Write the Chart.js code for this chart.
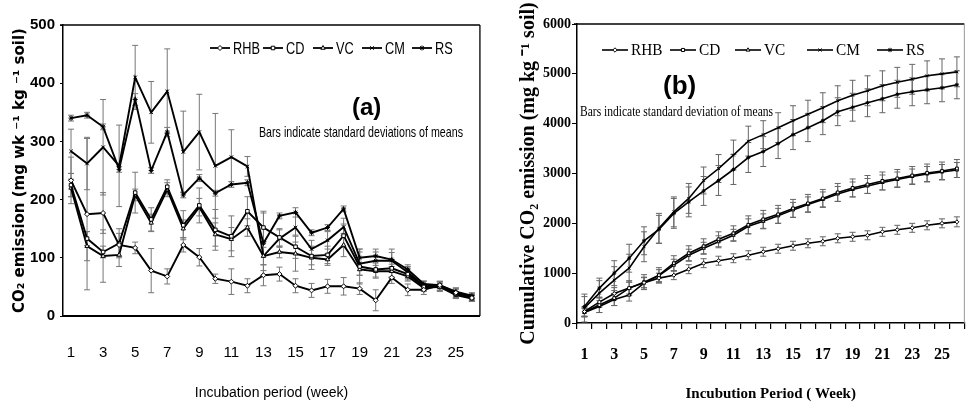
<!DOCTYPE html>
<html><head><meta charset="utf-8">
<script src="https://cdn.jsdelivr.net/npm/chart.js@4.4.0/dist/chart.umd.min.js"></script>
<style>
html,body{margin:0;padding:0;background:#fff;overflow:hidden}
#wrap{position:relative;width:973px;height:404px;background:#fff}
#ca{position:absolute;left:0;top:0;width:500px;height:404px}
#cb{position:absolute;left:500px;top:0;width:473px;height:404px}
</style></head><body>
<div id="wrap"><canvas id="ca" width="500" height="404"></canvas><canvas id="cb" width="473" height="404"></canvas></div>
<script>
// ---------- data ----------
const weeks = ['1','2','3','4','5','6','7','8','9','10','11','12','13','14','15','16','17','18','19','20','21','22','23','24','25','26'];
const seriesNames = ['RHB','CD','VC','CM','RS'];

// (a) weekly CO2 emission, mg wk-1 kg-1 soil
const emRHB = [233,175,177,122,117,78,68,122,101,64,59,52,70,72,52,44,51,51,47,27,66,45,45,53,40,31];
const emCD  = [225,133,110,125,212,166,222,156,190,148,137,180,152,135,119,103,105,138,85,80,82,72,50,50,38,31];
const emVC  = [220,120,103,105,208,160,217,150,187,140,132,152,103,110,107,100,97,122,80,77,77,68,48,50,36,30];
const emCM  = [283,262,290,258,410,350,386,282,316,258,273,257,103,133,152,115,130,153,90,95,95,75,52,52,40,33];
const emRS  = [340,345,325,252,372,250,316,208,237,211,226,229,125,172,178,143,152,184,100,103,97,80,55,53,42,35];
// (a) standard deviations
const sdRHB = [40,130,35,20,10,38,13,12,15,8,22,12,18,12,12,12,12,15,10,18,10,10,8,6,8,6];
const sdCD  = [20,12,10,25,35,20,12,25,30,35,35,25,25,15,20,15,15,20,30,15,15,10,6,8,8,5];
const sdVC  = [15,25,45,20,10,15,12,15,15,20,20,15,15,10,30,20,10,20,10,10,12,8,6,6,6,5];
const sdCM  = [38,45,82,70,55,53,73,70,65,90,47,17,25,15,25,15,15,15,20,15,20,10,8,8,8,6];
const sdRS  = [5,5,5,5,10,5,8,5,6,5,5,5,55,5,8,5,5,5,15,12,12,8,5,6,6,5];

// (b) cumulative CO2 emission, mg kg-1 soil
const cumRHB = [230,420,590,700,810,900,960,1080,1200,1250,1300,1360,1430,1490,1550,1600,1640,1700,1730,1760,1830,1870,1910,1960,2000,2030];
const cumCD  = [220,360,500,700,820,960,1200,1400,1540,1680,1800,1970,2080,2180,2300,2400,2500,2620,2710,2780,2850,2900,2960,3010,3050,3100];
const cumVC  = [210,330,470,560,800,950,1160,1360,1500,1630,1760,1940,2040,2150,2270,2380,2480,2590,2680,2750,2820,2880,2940,2990,3030,3070];
const cumCM  = [300,600,860,1100,1530,1900,2230,2500,2860,3100,3370,3650,3780,3920,4060,4190,4320,4460,4570,4660,4760,4830,4890,4960,5000,5040];
const cumRS  = [330,700,1000,1300,1650,1880,2200,2430,2650,2860,3080,3320,3440,3600,3780,3920,4060,4240,4330,4420,4500,4590,4640,4680,4720,4780];
// (b) standard deviations
const csdRHB = [90,100,120,120,100,100,90,90,90,90,90,90,90,90,90,90,90,90,90,90,90,90,90,90,90,100];
const csdCD  = [100,150,150,150,150,150,150,150,150,150,150,180,180,180,180,180,180,180,180,180,180,180,180,180,180,180];
const csdVC  = [80,120,120,120,120,120,120,120,120,120,120,150,150,150,150,150,150,150,150,150,150,150,150,150,150,150];
const csdCM  = [280,250,270,280,300,300,300,300,270,280,300,300,280,300,300,280,300,300,300,300,300,300,300,300,300,300];
const csdRS  = [200,200,250,280,280,280,300,300,290,300,300,300,300,300,300,280,280,280,280,280,280,280,280,280,280,280];

const yTicksA = [0,100,200,300,400,500];
const yTicksB = [0,1000,2000,3000,4000,5000,6000];

// ---------- styling ----------
const H = Chart.helpers;
const SANS = "'Liberation Sans',Arial,sans-serif";
const SERIF = "'Liberation Serif','Times New Roman',serif";
const markerStyles = ['rectRot','rect','triangle','crossRot','star'];

function buildDatasets(values, errs, lw, pr) {
  return seriesNames.map((name, i) => ({
    label: name, data: values[i], errors: errs[i],
    borderColor: '#000', backgroundColor: '#fff', borderWidth: lw,
    pointStyle: markerStyles[i], pointRadius: pr, pointBorderColor: '#000',
    pointBorderWidth: 1, pointBackgroundColor: '#fff', tension: 0, fill: false
  }));
}

function errorBarPlugin(color, cap) {
  return { id: 'errBars', beforeDatasetsDraw(chart) {
    const ctx = chart.ctx, x = chart.scales.x, y = chart.scales.y;
    ctx.save(); ctx.strokeStyle = color; ctx.lineWidth = 1;
    chart.data.datasets.forEach(ds => {
      ds.data.forEach((v, i) => {
        const e = ds.errors[i];
        const px = x.getPixelForValue(i);
        const t = y.getPixelForValue(v + e), b = y.getPixelForValue(Math.max(0, v - e));
        ctx.beginPath();
        ctx.moveTo(px, t); ctx.lineTo(px, b);
        ctx.moveTo(px - cap, t); ctx.lineTo(px + cap, t);
        ctx.moveTo(px - cap, b); ctx.lineTo(px + cap, b);
        ctx.stroke();
      });
    });
    ctx.restore();
  }};
}

function framePlugin(topW, rightColor, rightW) {
  return { id: 'frame', afterDatasetsDraw(chart) {
    const a = chart.chartArea, ctx = chart.ctx;
    ctx.save();
    ctx.strokeStyle = '#000'; ctx.lineWidth = topW;
    ctx.beginPath(); ctx.moveTo(a.left - 3, a.top); ctx.lineTo(a.right, a.top); ctx.stroke();
    ctx.strokeStyle = rightColor; ctx.lineWidth = rightW;
    ctx.beginPath(); ctx.moveTo(a.right, a.top); ctx.lineTo(a.right, a.bottom); ctx.stroke();
    ctx.restore();
  }};
}

function legendPlugin(cfg) {
  return { id: 'inLegend', afterDraw(chart) {
    const ctx = chart.ctx;
    seriesNames.forEach((name, i) => {
      const x0 = cfg.xs[i];
      ctx.save();
      ctx.strokeStyle = '#000'; ctx.lineWidth = cfg.lw;
      ctx.beginPath(); ctx.moveTo(x0, cfg.y); ctx.lineTo(x0 + cfg.len, cfg.y); ctx.stroke();
      ctx.lineWidth = 1; ctx.fillStyle = '#fff';
      H.drawPoint(ctx, {pointStyle: markerStyles[i], radius: cfg.r, rotation: 0, borderWidth: 1}, x0 + cfg.len / 2, cfg.y);
      ctx.fillStyle = '#000';
      ctx.font = cfg.font; ctx.textBaseline = 'middle'; ctx.textAlign = 'left';
      ctx.translate(x0 + cfg.len + cfg.gap, cfg.y + 1);
      ctx.scale(cfg.sx, 1);
      ctx.fillText(name, 0, 0);
      ctx.restore();
    });
  }};
}

function notesPlugin(items) {
  return { id: 'notes', afterDraw(chart) {
    const ctx = chart.ctx;
    items.forEach(t => {
      ctx.save();
      ctx.font = t.font; ctx.fillStyle = '#000'; ctx.textBaseline = 'middle'; ctx.textAlign = 'left';
      const w = ctx.measureText(t.text).width;
      const sx = t.w ? t.w / w : 1;
      ctx.translate(t.x, t.y); ctx.scale(sx, 1);
      ctx.fillText(t.text, 0, 0);
      ctx.restore();
    });
  }};
}

const oddLabel = (v, i) => (i % 2 === 0 ? weeks[i] : '');
const plainNum = v => String(v);

// ---------- chart (a) ----------
new Chart(document.getElementById('ca'), {
  type: 'line',
  data: { labels: weeks, datasets: buildDatasets([emRHB, emCD, emVC, emCM, emRS], [sdRHB, sdCD, sdVC, sdCM, sdRS], 1.9, 2.5) },
  options: {
    responsive: false, animation: false,
    layout: { padding: { top: 25, right: 3, left: 0, bottom: 0 } },
    plugins: { legend: { display: false }, tooltip: { enabled: false } },
    scales: {
      x: {
        type: 'category', offset: true,
        grid: { display: false, offset: true, drawTicks: false },
        border: { display: true, color: '#000', width: 2 },
        ticks: { autoSkip: false, maxRotation: 0, padding: 28, color: '#000', font: { family: SANS, size: 15 }, callback: oddLabel },
        title: { display: true, text: 'Incubation period (week)', color: '#000', font: { family: SANS, size: 14 }, padding: { top: 0, bottom: 2 } },
        afterFit: s => { s.height = 88; }
      },
      y: {
        min: yTicksA[0], max: yTicksA[yTicksA.length - 1],
        grid: { display: true, drawOnChartArea: false, drawTicks: true, tickLength: 3, color: '#000' },
        border: { display: true, color: '#000', width: 1.5 },
        ticks: { stepSize: yTicksA[1] - yTicksA[0], padding: 5, color: '#000', font: { family: SANS, size: 15, weight: 'bold' }, callback: plainNum },
        title: { display: true, text: 'CO₂ emission (mg wk ⁻¹ kg ⁻¹ soil)', color: '#000', font: { family: "'DejaVu Sans',sans-serif", size: 15, weight: 'bold' }, padding: { top: 11, bottom: 0 } },
        afterFit: s => { s.width = 63; }
      }
    }
  },
  plugins: [
    errorBarPlugin('#777', 3),
    framePlugin(1.3, '#000', 1.3),
    legendPlugin({ xs: [210, 263, 313, 362, 412], y: 48, len: 20, gap: 3, r: 2.5, lw: 1.8, sx: 0.75, font: '17px ' + SANS }),
    notesPlugin([
      { text: '(a)', x: 352, y: 108, font: 'bold 24px ' + SANS },
      { text: 'Bars indicate standard deviations of means', x: 259, y: 133, w: 204, font: '15px ' + SANS }
    ])
  ]
});

// ---------- chart (b) ----------
new Chart(document.getElementById('cb'), {
  type: 'line',
  data: { labels: weeks, datasets: buildDatasets([cumRHB, cumCD, cumVC, cumCM, cumRS], [csdRHB, csdCD, csdVC, csdCM, csdRS], 1.6, 2) },
  options: {
    responsive: false, animation: false,
    layout: { padding: { top: 24, right: 1, left: 0, bottom: 0 } },
    plugins: { legend: { display: false }, tooltip: { enabled: false } },
    scales: {
      x: {
        type: 'category', offset: true,
        grid: { display: true, drawOnChartArea: false, offset: true, drawTicks: true, tickLength: 6, color: '#000', lineWidth: 1.2 },
        border: { display: true, color: '#000', width: 1.5 },
        ticks: { autoSkip: false, maxRotation: 0, padding: 16, color: '#000', font: { family: SERIF, size: 16, weight: 'bold' }, callback: oddLabel },
        title: { display: true, text: 'Incubution Period ( Week)', color: '#000', font: { family: SERIF, size: 15, weight: 'bold' }, padding: { top: 0, bottom: 1 } },
        afterFit: s => { s.height = 81; }
      },
      y: {
        min: yTicksB[0], max: yTicksB[yTicksB.length - 1],
        grid: { display: true, drawOnChartArea: false, drawTicks: true, tickLength: 5, color: '#000' },
        border: { display: true, color: '#000', width: 1.5 },
        ticks: { stepSize: yTicksB[1] - yTicksB[0], padding: 1, color: '#000', font: { family: SERIF, size: 14, weight: 'bold' }, callback: plainNum },
        title: { display: true, text: 'Cumulative CO₂ emission (mg kg ⁻¹ soil)', color: '#000', font: { family: SERIF, size: 20, weight: 'bold' }, padding: { top: 17, bottom: 0 } },
        afterFit: s => { s.width = 77; }
      }
    }
  },
  plugins: [
    errorBarPlugin('#666', 3),
    framePlugin(1.3, '#999', 1),
    legendPlugin({ xs: [102, 170, 235, 307, 377], y: 50, len: 26, gap: 3, r: 2.2, lw: 1.6, sx: 0.9, font: '17px ' + SERIF }),
    notesPlugin([
      { text: '(b)', x: 163, y: 87, font: 'bold 26px ' + SANS },
      { text: 'Bars indicate standard deviation of means', x: 80, y: 112, w: 193, font: '15px ' + SERIF }
    ])
  ]
});
</script>
</body></html>
